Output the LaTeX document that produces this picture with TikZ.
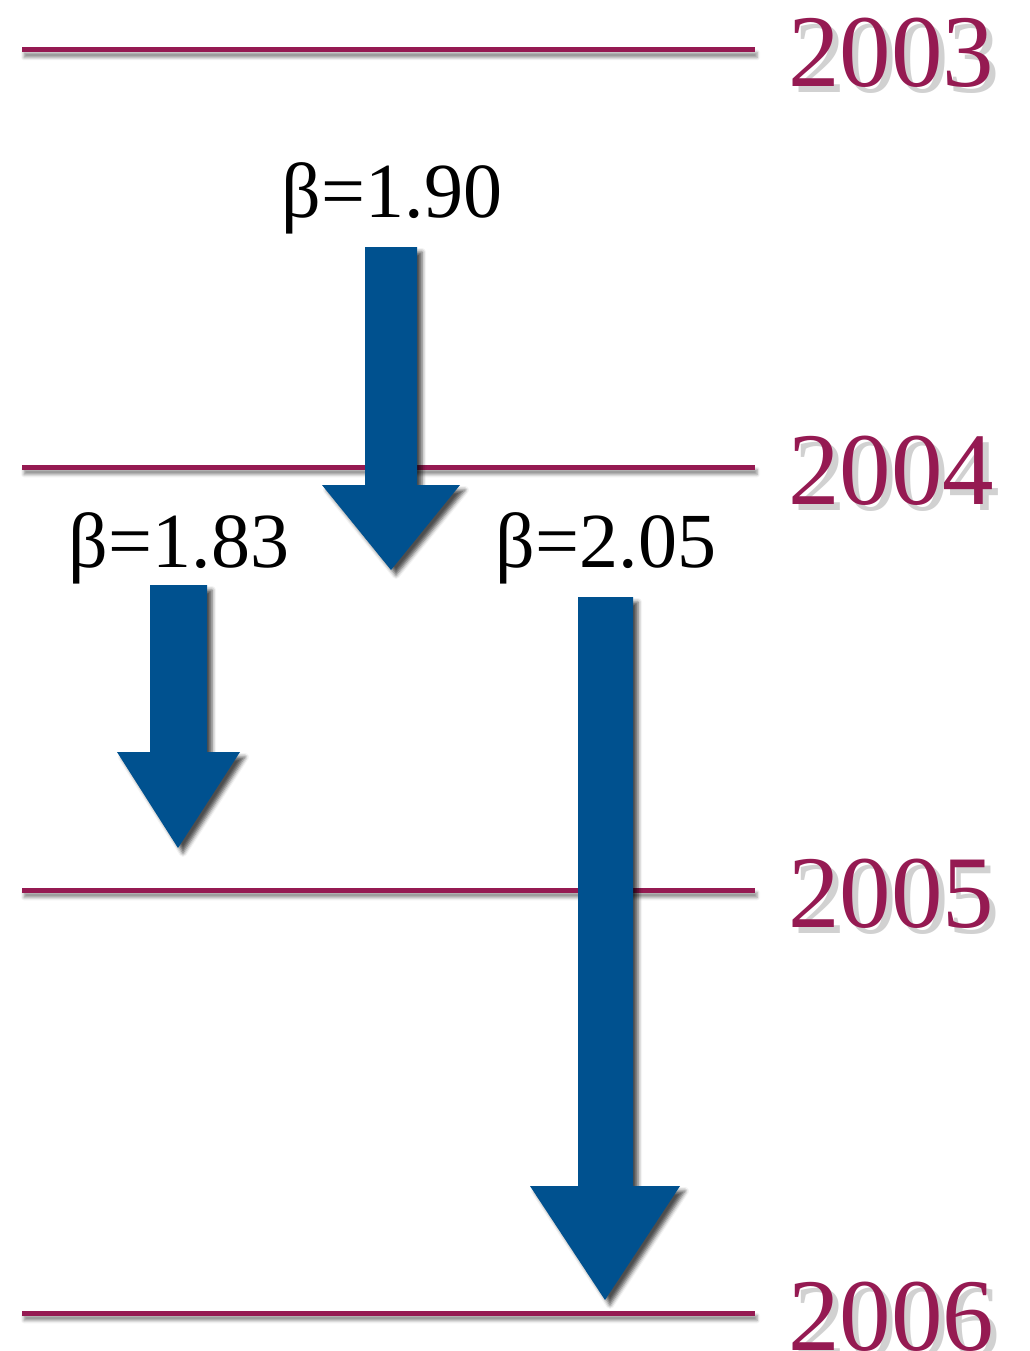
\documentclass[tikz,border=0pt]{standalone}
\usepackage{fontspec}
\setmainfont{Liberation Serif}
\usetikzlibrary{shadows.blur}
\definecolor{yr}{HTML}{951A52}
\definecolor{arr}{HTML}{00518F}
\tikzset{
  yearline/.style={fill=yr, blur shadow={shadow xshift=2pt, shadow yshift=-5pt, shadow blur radius=3pt, shadow opacity=45}},
  betaarrow/.style={fill=arr, blur shadow={shadow xshift=5pt, shadow yshift=-5pt, shadow blur radius=4pt, shadow opacity=70}},
  yearlabel/.style={text=yr, anchor=base west, inner sep=0pt, font=\fontsize{103}{103}\selectfont},
  yearshade/.style={yearlabel, text=black, opacity=0.18},
  betalabel/.style={anchor=base, inner sep=0pt, font=\fontsize{78}{78}\selectfont},
}
\begin{document}
\begin{tikzpicture}[x=1pt, y=-1pt]
 \useasboundingbox (0,0) rectangle (1029,1351);
 % year lines and labels
 \foreach \y/\yr in {50/2003, 467/2004, 890/2005, 1313/2006} {
  \fill[yearline] (22,\y-2.5) rectangle (755,\y+2.5);
  \node[yearshade] at (794,\y+43) {\yr};
  \node[yearlabel] (y\yr) at (788,\y+37) {\yr};
 }
 % arrows
 \fill[betaarrow] (365,247) -- (417,247) -- (417,485) -- (460,485) -- (391,570) -- (322,485) -- (365,485) -- cycle;
 \fill[betaarrow] (150,585) -- (207,585) -- (207,752) -- (240,752) -- (178,848) -- (117,752) -- (150,752) -- cycle;
 \fill[betaarrow] (578,597) -- (633,597) -- (633,1186) -- (680,1186) -- (605,1300) -- (530,1186) -- (578,1186) -- cycle;
 % beta labels
 \node[betalabel] (b190) at (392,218) {β=1.90};
 \node[betalabel] (b183) at (179,567) {β=1.83};
 \node[betalabel] (b205) at (606,567) {β=2.05};
\end{tikzpicture}
\end{document}
